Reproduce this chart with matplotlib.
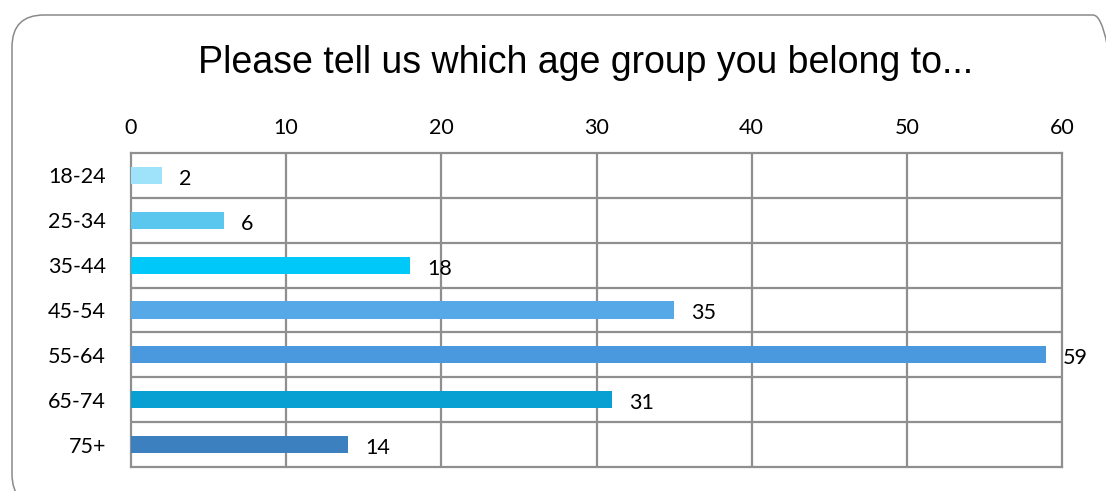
import matplotlib
matplotlib.use("Agg")
import matplotlib.pyplot as plt
from matplotlib.patches import FancyBboxPatch
from matplotlib.transforms import IdentityTransform

# Survey answers per age group
age_groups = ["18-24", "25-34", "35-44", "45-54", "55-64", "65-74", "75+"]
counts = [2, 6, 18, 35, 59, 31, 14]
bar_colors = ["#9EE3FA", "#5BC6EE", "#00C8F8", "#56A9E6", "#4A98DD", "#08A0D3", "#3C80C0"]
x_ticks = [0, 10, 20, 30, 40, 50, 60]

W, H, DPI = 1106, 491, 100
fig = plt.figure(figsize=(W / DPI, H / DPI), dpi=DPI)

# rounded frame around the whole chart
frame = FancyBboxPatch((12, -15), 1113, 491, boxstyle="round,pad=0,rounding_size=32",
                       transform=IdentityTransform(), facecolor="none",
                       edgecolor="#8a8a8a", linewidth=1.1, zorder=5)
fig.patches.append(frame)

ax = fig.add_axes([131 / W, 1 - 467 / H, (1062 - 131) / W, (467 - 153) / H])
ax.set_facecolor("white")

ypos = list(range(len(age_groups)))
ax.barh(ypos, counts, height=0.38, color=bar_colors, zorder=3)

ax.set_xlim(0, 60)
ax.set_ylim(len(age_groups) - 0.5, -0.5)
ax.set_xticks(x_ticks)
ax.set_yticks(ypos)
ax.set_yticklabels(age_groups)
ax.xaxis.tick_top()
ax.tick_params(axis="both", length=0, labelsize=15.5, colors="black")
ax.tick_params(axis="x", pad=11)
ax.tick_params(axis="y", pad=18)
for lab in ax.get_xticklabels() + ax.get_yticklabels():
    lab.set_fontfamily("Lato")

# grid: vertical lines at ticks, horizontal lines between rows
grid_col = "#8f8f8f"
for xv in x_ticks[1:-1]:
    ax.axvline(xv, color=grid_col, lw=1.6, zorder=1)
for i in range(len(age_groups) - 1):
    ax.axhline(i + 0.5, color=grid_col, lw=1.6, zorder=1)
for s in ax.spines.values():
    s.set_color(grid_col)
    s.set_linewidth(1.6)

# value labels to the right of each bar
for y, v in zip(ypos, counts):
    ax.annotate(str(v), (v, y), xytext=(12, -2.5), textcoords="offset points",
                ha="left", va="center", fontsize=15.5, fontfamily="Lato",
                annotation_clip=False, zorder=4)

fig.text(586 / W, 1 - 63 / H, "Please tell us which age group you belong to...",
         ha="center", va="center", fontsize=27, fontfamily="Liberation Sans")

fig.savefig("out.png", dpi=DPI)
